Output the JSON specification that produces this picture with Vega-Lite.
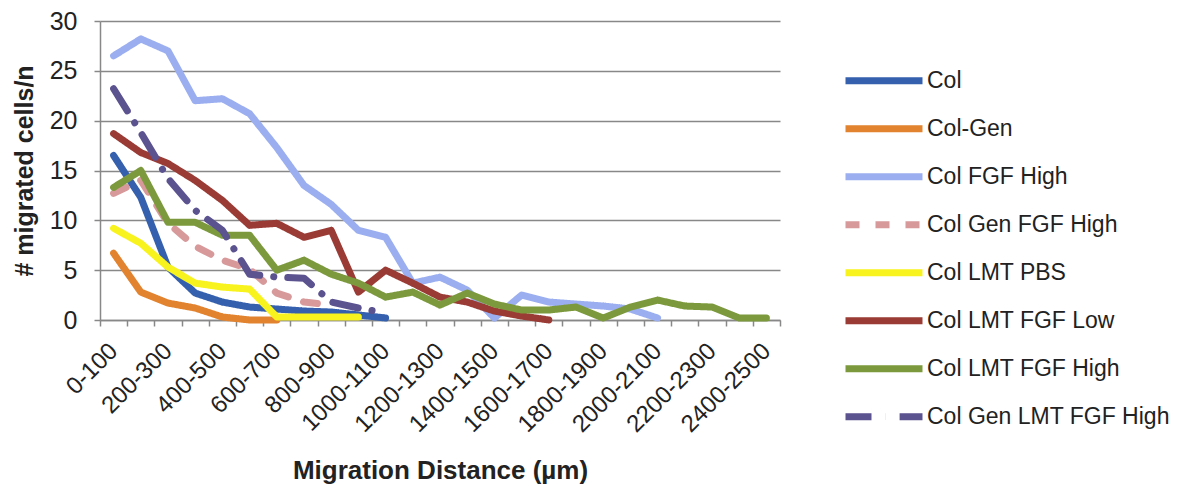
{
  "$schema": "https://vega.github.io/schema/vega-lite/v6.json",
  "width": 680,
  "height": 299,
  "autosize": {"type": "none"},
  "padding": {"left": 100, "top": 21, "right": 397, "bottom": 171},
  "background": "white",
  "config": {"view": {"stroke": null}, "font": "Liberation Sans"},
  "data": {"values": [
    {"series":"Col","bin":"0-100","value":16.5},{"series":"Col","bin":"100-200","value":12.3},{"series":"Col","bin":"200-300","value":5.3},{"series":"Col","bin":"300-400","value":2.7},{"series":"Col","bin":"400-500","value":1.8},{"series":"Col","bin":"500-600","value":1.3},{"series":"Col","bin":"600-700","value":1.1},{"series":"Col","bin":"700-800","value":0.9},{"series":"Col","bin":"800-900","value":0.8},{"series":"Col","bin":"900-1000","value":0.5},{"series":"Col","bin":"1000-1100","value":0.2},
    {"series":"Col-Gen","bin":"0-100","value":6.7},{"series":"Col-Gen","bin":"100-200","value":2.8},{"series":"Col-Gen","bin":"200-300","value":1.7},{"series":"Col-Gen","bin":"300-400","value":1.2},{"series":"Col-Gen","bin":"400-500","value":0.3},{"series":"Col-Gen","bin":"500-600","value":0.0},{"series":"Col-Gen","bin":"600-700","value":0.0},
    {"series":"Col FGF High","bin":"0-100","value":26.5},{"series":"Col FGF High","bin":"100-200","value":28.2},{"series":"Col FGF High","bin":"200-300","value":27.0},{"series":"Col FGF High","bin":"300-400","value":22.0},{"series":"Col FGF High","bin":"400-500","value":22.2},{"series":"Col FGF High","bin":"500-600","value":20.7},{"series":"Col FGF High","bin":"600-700","value":17.3},{"series":"Col FGF High","bin":"700-800","value":13.5},{"series":"Col FGF High","bin":"800-900","value":11.6},{"series":"Col FGF High","bin":"900-1000","value":9.0},{"series":"Col FGF High","bin":"1000-1100","value":8.3},{"series":"Col FGF High","bin":"1100-1200","value":3.7},{"series":"Col FGF High","bin":"1200-1300","value":4.3},{"series":"Col FGF High","bin":"1300-1400","value":3.0},{"series":"Col FGF High","bin":"1400-1500","value":0.2},{"series":"Col FGF High","bin":"1500-1600","value":2.5},{"series":"Col FGF High","bin":"1600-1700","value":1.8},{"series":"Col FGF High","bin":"1700-1800","value":1.6},{"series":"Col FGF High","bin":"1800-1900","value":1.4},{"series":"Col FGF High","bin":"1900-2000","value":1.1},{"series":"Col FGF High","bin":"2000-2100","value":0.2},
    {"series":"Col Gen FGF High","bin":"0-100","value":12.7},{"series":"Col Gen FGF High","bin":"100-200","value":14.0},{"series":"Col Gen FGF High","bin":"200-300","value":9.7},{"series":"Col Gen FGF High","bin":"300-400","value":7.4},{"series":"Col Gen FGF High","bin":"400-500","value":6.0},{"series":"Col Gen FGF High","bin":"500-600","value":5.1},{"series":"Col Gen FGF High","bin":"600-700","value":2.7},{"series":"Col Gen FGF High","bin":"700-800","value":1.8},{"series":"Col Gen FGF High","bin":"800-900","value":1.5},
    {"series":"Col LMT PBS","bin":"0-100","value":9.2},{"series":"Col LMT PBS","bin":"100-200","value":7.7},{"series":"Col LMT PBS","bin":"200-300","value":5.3},{"series":"Col LMT PBS","bin":"300-400","value":3.7},{"series":"Col LMT PBS","bin":"400-500","value":3.3},{"series":"Col LMT PBS","bin":"500-600","value":3.1},{"series":"Col LMT PBS","bin":"600-700","value":0.3},{"series":"Col LMT PBS","bin":"700-800","value":0.3},{"series":"Col LMT PBS","bin":"800-900","value":0.3},{"series":"Col LMT PBS","bin":"900-1000","value":0.3},
    {"series":"Col LMT FGF Low","bin":"0-100","value":18.7},{"series":"Col LMT FGF Low","bin":"100-200","value":16.8},{"series":"Col LMT FGF Low","bin":"200-300","value":15.7},{"series":"Col LMT FGF Low","bin":"300-400","value":14.0},{"series":"Col LMT FGF Low","bin":"400-500","value":12.0},{"series":"Col LMT FGF Low","bin":"500-600","value":9.5},{"series":"Col LMT FGF Low","bin":"600-700","value":9.7},{"series":"Col LMT FGF Low","bin":"700-800","value":8.3},{"series":"Col LMT FGF Low","bin":"800-900","value":9.0},{"series":"Col LMT FGF Low","bin":"900-1000","value":2.8},{"series":"Col LMT FGF Low","bin":"1000-1100","value":5.0},{"series":"Col LMT FGF Low","bin":"1100-1200","value":3.7},{"series":"Col LMT FGF Low","bin":"1200-1300","value":2.3},{"series":"Col LMT FGF Low","bin":"1300-1400","value":1.8},{"series":"Col LMT FGF Low","bin":"1400-1500","value":0.9},{"series":"Col LMT FGF Low","bin":"1500-1600","value":0.4},{"series":"Col LMT FGF Low","bin":"1600-1700","value":0.0},
    {"series":"Col LMT FGF High","bin":"0-100","value":13.3},{"series":"Col LMT FGF High","bin":"100-200","value":15.0},{"series":"Col LMT FGF High","bin":"200-300","value":9.8},{"series":"Col LMT FGF High","bin":"300-400","value":9.8},{"series":"Col LMT FGF High","bin":"400-500","value":8.5},{"series":"Col LMT FGF High","bin":"500-600","value":8.5},{"series":"Col LMT FGF High","bin":"600-700","value":5.0},{"series":"Col LMT FGF High","bin":"700-800","value":6.0},{"series":"Col LMT FGF High","bin":"800-900","value":4.6},{"series":"Col LMT FGF High","bin":"900-1000","value":3.7},{"series":"Col LMT FGF High","bin":"1000-1100","value":2.3},{"series":"Col LMT FGF High","bin":"1100-1200","value":2.8},{"series":"Col LMT FGF High","bin":"1200-1300","value":1.5},{"series":"Col LMT FGF High","bin":"1300-1400","value":2.7},{"series":"Col LMT FGF High","bin":"1400-1500","value":1.6},{"series":"Col LMT FGF High","bin":"1500-1600","value":1.0},{"series":"Col LMT FGF High","bin":"1600-1700","value":1.0},{"series":"Col LMT FGF High","bin":"1700-1800","value":1.3},{"series":"Col LMT FGF High","bin":"1800-1900","value":0.2},{"series":"Col LMT FGF High","bin":"1900-2000","value":1.3},{"series":"Col LMT FGF High","bin":"2000-2100","value":2.0},{"series":"Col LMT FGF High","bin":"2100-2200","value":1.4},{"series":"Col LMT FGF High","bin":"2200-2300","value":1.3},{"series":"Col LMT FGF High","bin":"2300-2400","value":0.2},{"series":"Col LMT FGF High","bin":"2400-2500","value":0.2},
    {"series":"Col Gen LMT FGF High","bin":"0-100","value":23.2},{"series":"Col Gen LMT FGF High","bin":"100-200","value":18.8},{"series":"Col Gen LMT FGF High","bin":"200-300","value":14.2},{"series":"Col Gen LMT FGF High","bin":"300-400","value":11.0},{"series":"Col Gen LMT FGF High","bin":"400-500","value":9.0},{"series":"Col Gen LMT FGF High","bin":"500-600","value":4.6},{"series":"Col Gen LMT FGF High","bin":"600-700","value":4.3},{"series":"Col Gen LMT FGF High","bin":"700-800","value":4.2},{"series":"Col Gen LMT FGF High","bin":"800-900","value":1.8},{"series":"Col Gen LMT FGF High","bin":"900-1000","value":1.2},{"series":"Col Gen LMT FGF High","bin":"1000-1100","value":0.7}
  ]},
  "mark": {"type": "line", "strokeWidth": 7, "strokeCap": "round", "strokeJoin": "round"},
  "encoding": {
    "x": {
      "field": "bin", "type": "ordinal", "bandPosition": 0.5,
      "scale": {"type": "band", "paddingInner": 0, "paddingOuter": 0,
        "domain": ["0-100","100-200","200-300","300-400","400-500","500-600","600-700","700-800","800-900","900-1000","1000-1100","1100-1200","1200-1300","1300-1400","1400-1500","1500-1600","1600-1700","1700-1800","1800-1900","1900-2000","2000-2100","2100-2200","2200-2300","2300-2400","2400-2500"]},
      "axis": {
        "title": "Migration Distance (µm)", "tickBand": "extent", "grid": false,
        "labelAngle": -45, "labelAlign": "right", "labelBaseline": "middle",
        "labelFontSize": 24, "labelColor": "#222", "labelPadding": 21, "labelOverlap": false,
        "labelExpr": "toNumber(split(datum.value, '-')[0]) % 200 === 0 ? datum.value : ''",
        "domainColor": "#888", "domainWidth": 1.5, "tickColor": "#888", "tickWidth": 1.5, "tickSize": 6,
        "titleFontSize": 26, "titleFontWeight": "bold", "titleColor": "#222", "titlePadding": 21
      }
    },
    "y": {
      "field": "value", "type": "quantitative",
      "scale": {"domain": [0, 30], "nice": false},
      "axis": {
        "title": "# migrated cells/n", "values": [0, 5, 10, 15, 20, 25, 30],
        "grid": true, "gridColor": "#888", "gridWidth": 1.5,
        "labelFontSize": 25, "labelColor": "#222", "labelPadding": 17,
        "domainColor": "#888", "domainWidth": 1.5, "tickColor": "#888", "tickWidth": 1.5, "tickSize": 6,
        "titleFontSize": 25, "titleFontWeight": "bold", "titleColor": "#222", "titlePadding": 12
      }
    },
    "color": {
      "field": "series", "type": "nominal",
      "scale": {
        "domain": ["Col","Col-Gen","Col FGF High","Col Gen FGF High","Col LMT PBS","Col LMT FGF Low","Col LMT FGF High","Col Gen LMT FGF High"],
        "range": ["#3560AD","#E2832F","#9AAEF0","#D8999B","#F8F31E","#9A3B35","#7C9A3D","#5B5290"]
      },
      "legend": {
        "title": null, "orient": "none", "legendX": 742, "legendY": 36,
        "symbolType": "stroke", "symbolSize": 5929, "symbolStrokeWidth": 7,
        "labelFontSize": 23, "labelColor": "#222", "labelOffset": 1, "labelLimit": 0,
        "clipHeight": 47.4, "rowPadding": 0
      }
    },
    "strokeDash": {
      "field": "series", "type": "nominal",
      "scale": {
        "domain": ["Col","Col-Gen","Col FGF High","Col Gen FGF High","Col LMT PBS","Col LMT FGF Low","Col LMT FGF High","Col Gen LMT FGF High"],
        "range": [[1,0],[1,0],[1,0],[14,16],[1,0],[1,0],[1,0],[26,14,0.1,14]]
      },
      "legend": {
        "title": null, "orient": "none", "legendX": 742, "legendY": 36,
        "symbolType": "stroke", "symbolSize": 5929, "symbolStrokeWidth": 7,
        "labelFontSize": 23, "labelColor": "#222", "labelOffset": 1, "labelLimit": 0,
        "clipHeight": 47.4, "rowPadding": 0
      }
    }
  }
}
